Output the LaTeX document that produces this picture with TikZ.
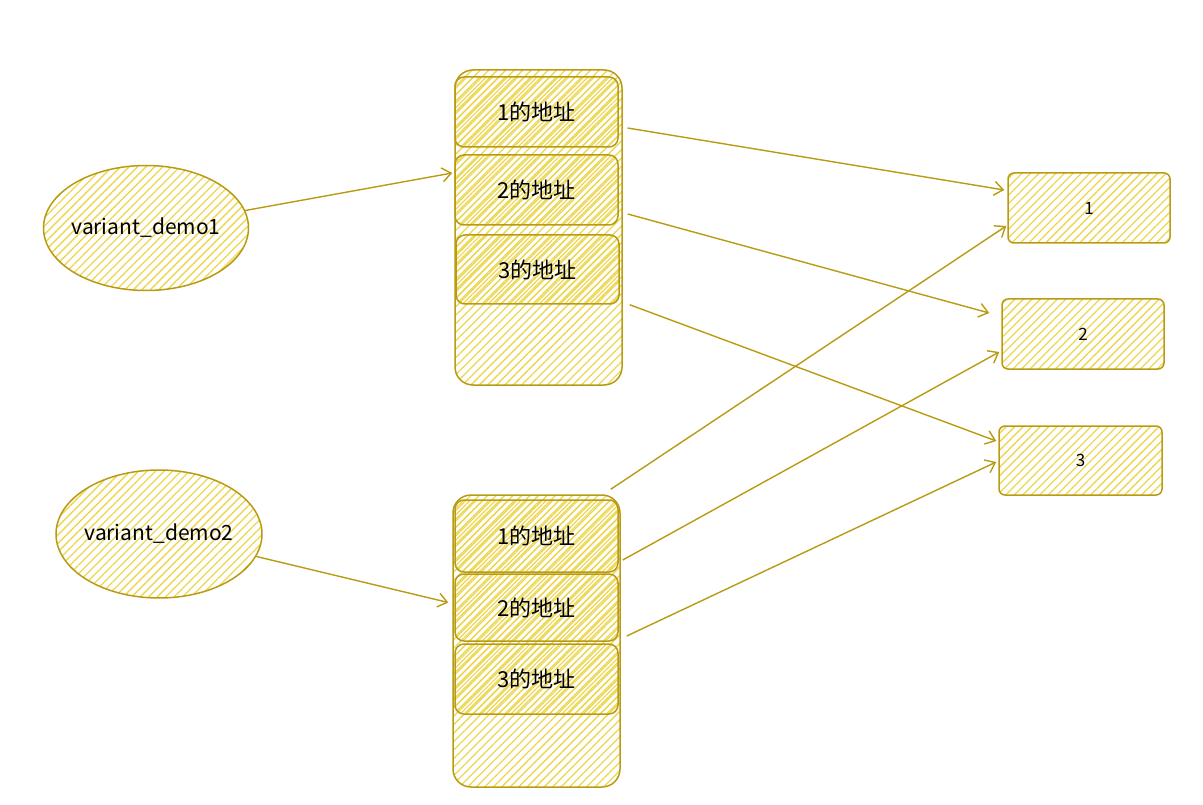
\documentclass[tikz,border=0pt]{standalone}
\usepackage{fontspec}
\setmainfont{Noto Sans CJK SC}
\usetikzlibrary{arrows.meta,shapes.geometric,patterns.meta}
\definecolor{stroke}{RGB}{185, 155, 18}
\definecolor{hatch}{RGB}{236, 214, 80}

\begin{document}
\begin{tikzpicture}[x=1pt, y=-1pt, >={Straight Barb[length=9pt,width=14pt]},
  hatched/.style={draw=stroke, line width=1.5pt, pattern={Lines[angle=45,distance=6pt,line width=1.3pt]}, pattern color=hatch},
  holder/.style={hatched, rounded corners=18pt, minimum width=167pt, inner sep=0pt},
  cell/.style={hatched, pattern={Lines[angle=45,distance=4.5pt,line width=1.2pt]}, rounded corners=9pt, minimum width=163pt, minimum height=70pt, inner sep=0pt, font=\fontsize{22}{26}\selectfont},
  value/.style={hatched, rounded corners=6pt, minimum width=162pt, minimum height=70pt, inner sep=0pt, font=\fontsize{17}{20}\selectfont},
  var/.style={hatched, ellipse, inner xsep=-12pt, inner ysep=0pt, font=\fontsize{21}{25}\selectfont},
  link/.style={->, draw=stroke, line width=1.4pt}]
  \useasboundingbox (0,0) rectangle (1203,805);

  % Variables
  \node[var, minimum width=205pt, minimum height=125pt] (e1) at (146,228) {variant\_demo1};
  \node[var, minimum width=206pt, minimum height=128pt] (e2) at (159,534) {variant\_demo2};

  % Upper array
  \node[holder, minimum height=315pt] (uc) at (538.5,227.5) {};
  \node[cell] (u1) at (536.5,112) {1的地址};
  \node[cell] (u2) at (536.5,190) {2的地址};
  \node[cell, minimum height=69pt] (u3) at (537.5,269.5) {3的地址};

  % Lower array
  \node[holder, minimum height=292pt] (lc) at (536.5,641) {};
  \node[cell, minimum height=72pt] (l1) at (536.5,536) {1的地址};
  \node[cell, minimum height=67pt] (l2) at (536.5,607.5) {2的地址};
  \node[cell] (l3) at (536.5,679) {3的地址};

  % Values
  \node[value] (v1) at (1089,208) {1};
  \node[value] (v2) at (1083,334) {2};
  \node[value, minimum width=163pt, minimum height=69pt] (v3) at (1080.5,460.5) {3};

  % References
  \draw[link] (e1.10) -- ([xshift=-2pt,yshift=17pt]u2.west);
  \draw[link] (e2.-13) -- ([xshift=-6pt,yshift=5pt]l2.west);
  \draw[link] ([xshift=9pt,yshift=-16pt]u1.east) -- ([xshift=-3pt,yshift=18pt]v1.west);
  \draw[link] ([xshift=9pt,yshift=-24pt]u2.east) -- ([xshift=-12pt,yshift=21pt]v2.west);
  \draw[link] ([xshift=10pt]u3.south east) -- ([xshift=-2pt,yshift=19.5pt]v3.west);
  \draw[link] ([xshift=-10pt,yshift=5pt]lc.north east) -- ([xshift=-1pt,yshift=-18pt]v1.west);
  \draw[link] ([xshift=4pt,yshift=-24pt]l1.east) -- ([xshift=-2pt,yshift=-18pt]v2.west);
  \draw[link] ([xshift=8pt,yshift=-28.5pt]l2.east) -- ([xshift=-2pt,yshift=-1.5pt]v3.west);
\end{tikzpicture}
\end{document}
